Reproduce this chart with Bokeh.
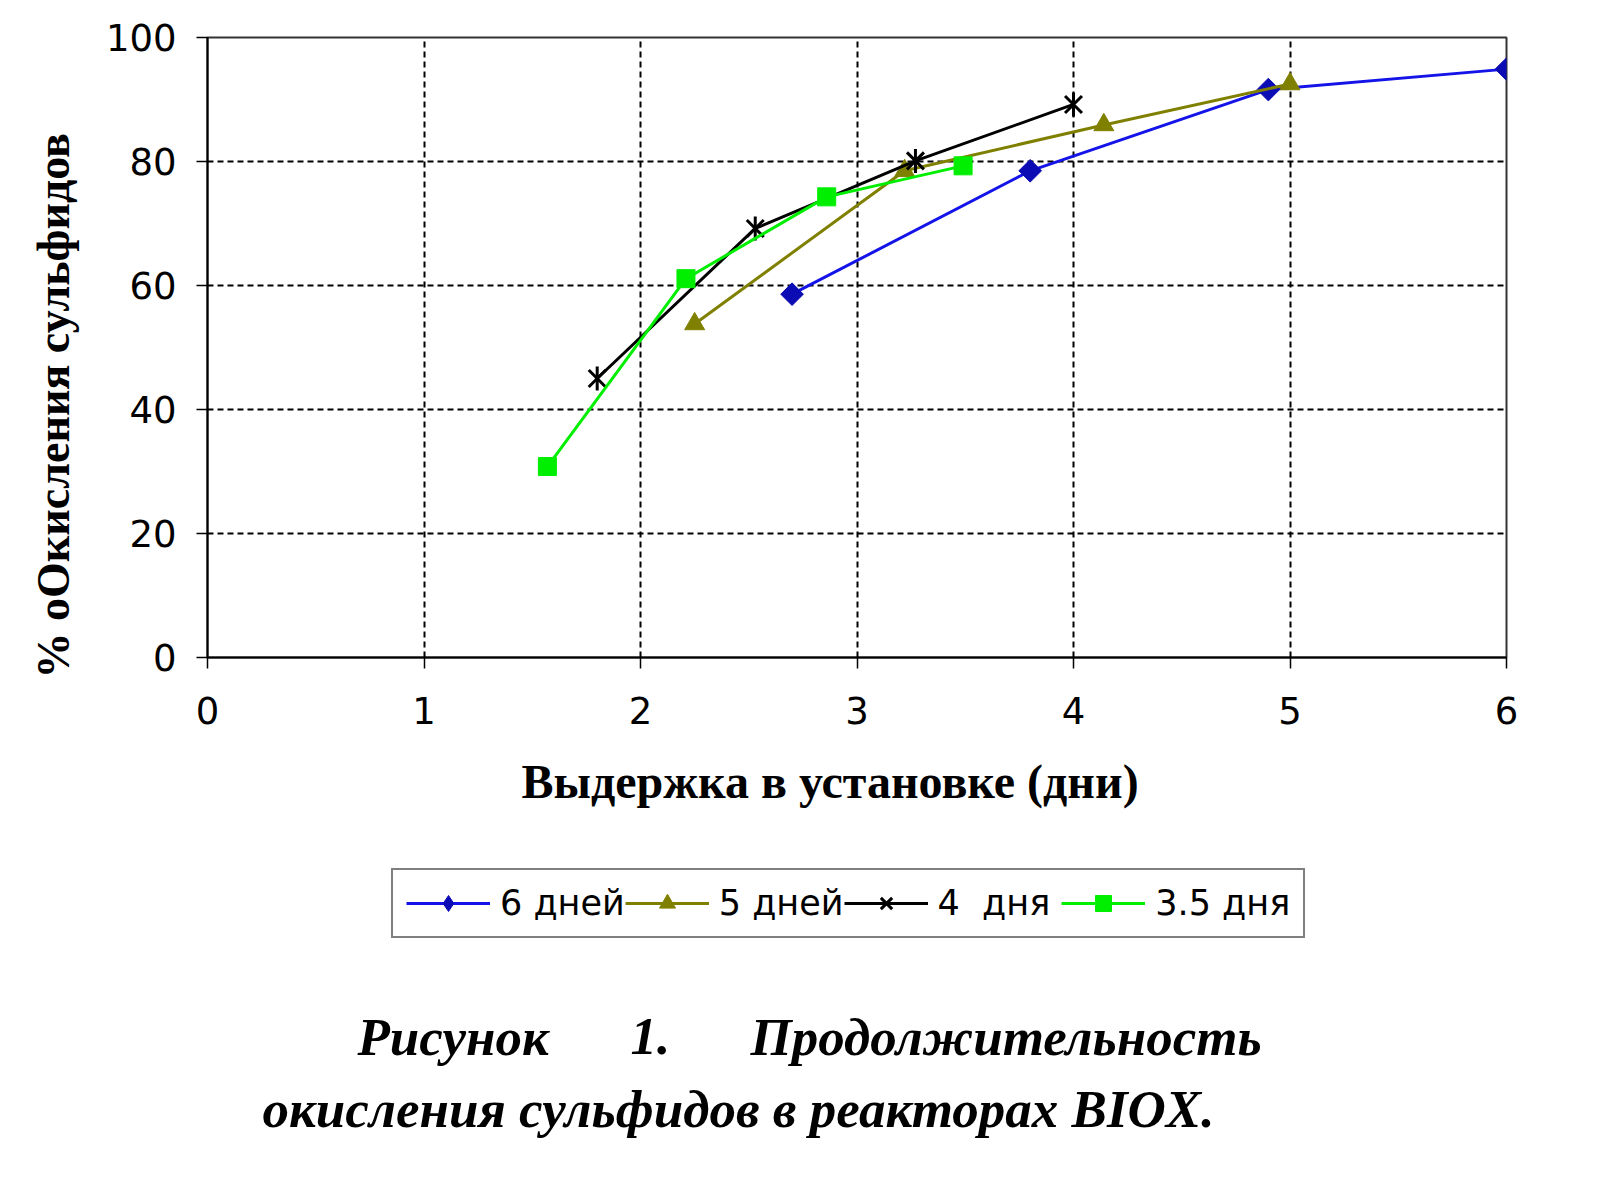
import math

from bokeh.embed import file_html
from bokeh.layouts import column
from bokeh.models import Label, Legend, LegendItem, Range1d, Title
from bokeh.plotting import figure
from bokeh.resources import INLINE

# Time in reactor (days) vs % sulfide oxidation
x_6 = [2.70, 3.80, 4.90, 6.00]
y_6 = [58.6, 78.5, 91.6, 94.9]

x_5 = [2.25, 3.22, 4.14, 5.00]
y_5 = [53.8, 78.5, 85.9, 92.5]

x_4 = [1.80, 2.53, 3.27, 4.00]
y_4 = [45.0, 69.2, 80.1, 89.2]

x_35 = [1.57, 2.21, 2.86, 3.49]
y_35 = [30.8, 61.1, 74.3, 79.3]

series_names = ["6 дней", "5 дней", "4  дня ", "3.5 дня"]
x_ticks = [0, 1, 2, 3, 4, 5, 6]
y_ticks = [0, 20, 40, 60, 80, 100]

BLUE_LINE, BLUE_MARK = "#1414e8", "#0c0cb4"
OLIVE = "#808000"
GREEN = "#00ee00"

W = 1584
H1 = 850
H2 = 1184 - H1
LEFT, RIGHT = 207, 78

p = figure(
    width=W,
    height=H1,
    output_backend="svg",
    toolbar_location=None,
    tools="",
    x_range=Range1d(0, 6),
    y_range=Range1d(0, 100),
    min_border_left=LEFT,
    min_border_right=RIGHT,
    min_border_top=37,
    min_border_bottom=H1 - 657,
)
p.background_fill_color = "white"
p.border_fill_color = "white"
p.outline_line_color = "#333333"
p.outline_line_width = 2

# grid
p.xgrid.ticker = x_ticks
p.ygrid.ticker = y_ticks
for g in (p.xgrid, p.ygrid):
    g.grid_line_color = "black"
    g.grid_line_dash = "6 4"
    g.grid_line_width = 2

# axes
p.xaxis.ticker = x_ticks
p.yaxis.ticker = y_ticks
for ax in (p.xaxis, p.yaxis):
    ax.axis_line_color = "black"
    ax.axis_line_width = 2
    ax.major_tick_line_color = "black"
    ax.major_tick_line_width = 1.5
    ax.major_tick_out = 11
    ax.major_tick_in = 0
    ax.minor_tick_line_color = None
    ax.major_label_text_font = "DejaVu Sans"
    ax.major_label_text_font_size = "37px"
    ax.major_label_text_color = "black"
p.xaxis.major_label_standoff = 28
p.yaxis.major_label_standoff = 20

# axis titles (as side titles so they can sit off-centre like the original)
title_style = dict(
    text_font="Liberation Serif",
    text_font_style="bold",
    text_color="black",
    align="left",
)
p.add_layout(Title(text="Выдержка в установке (дни)", offset=314, standoff=53,
                   text_font_size="48px", **title_style), "below")
p.add_layout(Title(text="% оОкисления сульфидов", offset=-21, standoff=47,
                   text_font_size="46px", **title_style), "left")


def add_series(fig, visible=True, legend_markers=False):
    diamond = dict(marker="diamond", size=22) if legend_markers else \
        dict(marker="square", angle=math.pi / 4, size=16)
    r = []
    r.append([
        fig.line(x_6, y_6, line_color=BLUE_LINE, line_width=3, visible=visible),
        fig.scatter(x_6, y_6, fill_color=BLUE_MARK, line_color=BLUE_MARK,
                    visible=visible, **diamond),
    ])
    r.append([
        fig.line(x_5, y_5, line_color=OLIVE, line_width=3, visible=visible),
        fig.scatter(x_5, y_5, marker="triangle", size=20,
                    fill_color=OLIVE, line_color=OLIVE, visible=visible),
    ])
    r.append([
        fig.line(x_4, y_4, line_color="black", line_width=3, visible=visible),
        fig.scatter(x_4, y_4, marker="x", size=24, line_color="black",
                    line_width=3, visible=visible),
        fig.scatter(x_4, y_4, marker="dash", angle=math.pi / 2, size=24,
                    line_color="black", line_width=3, visible=visible),
    ])
    r.append([
        fig.line(x_35, y_35, line_color=GREEN, line_width=3, visible=visible),
        fig.scatter(x_35, y_35, marker="square", size=18,
                    fill_color=GREEN, line_color=GREEN, visible=visible),
    ])
    return r


add_series(p)

# lower part: legend box and figure caption
q = figure(
    width=W,
    height=H2,
    output_backend="svg",
    toolbar_location=None,
    tools="",
    x_range=Range1d(LEFT, W - RIGHT),
    y_range=Range1d(0, H2),
    x_axis_type=None,
    y_axis_type=None,
    min_border_left=LEFT,
    min_border_right=RIGHT,
    min_border_top=0,
    min_border_bottom=0,
)
q.grid.visible = False
q.outline_line_color = None
q.background_fill_color = "white"
q.border_fill_color = "white"

legend_renderers = add_series(q, visible=False, legend_markers=True)
legend = Legend(
    items=[LegendItem(label=n, renderers=r) for n, r in zip(series_names, legend_renderers)],
    orientation="horizontal",
    location=(391 - LEFT, 246),
    glyph_width=84,
    glyph_height=40,
    label_standoff=10,
    spacing=0,
    padding=13,
    margin=0,
    border_line_color="black",
    border_line_width=2,
    label_text_font="DejaVu Sans",
    label_text_font_size="35px",
    label_text_color="black",
    label_height=40,
)
q.add_layout(legend)

cap = dict(
    y_units="screen",
    text_font="Liberation Serif",
    text_font_style="bold italic",
    text_font_size="53px",
    text_color="black",
    text_baseline="alphabetic",
)
q.add_layout(Label(x=357, y=148, text="Рисунок", **cap))
q.add_layout(Label(x=630, y=148, text="1.", **cap))
q.add_layout(Label(x=750, y=148, text="Продолжительность", **cap))
q.add_layout(Label(x=262, y=76, text="окисления сульфидов в реакторах BIOX.", **cap))

layout = column(p, q, spacing=0)
open("out.html", "w").write(file_html(layout, INLINE))
